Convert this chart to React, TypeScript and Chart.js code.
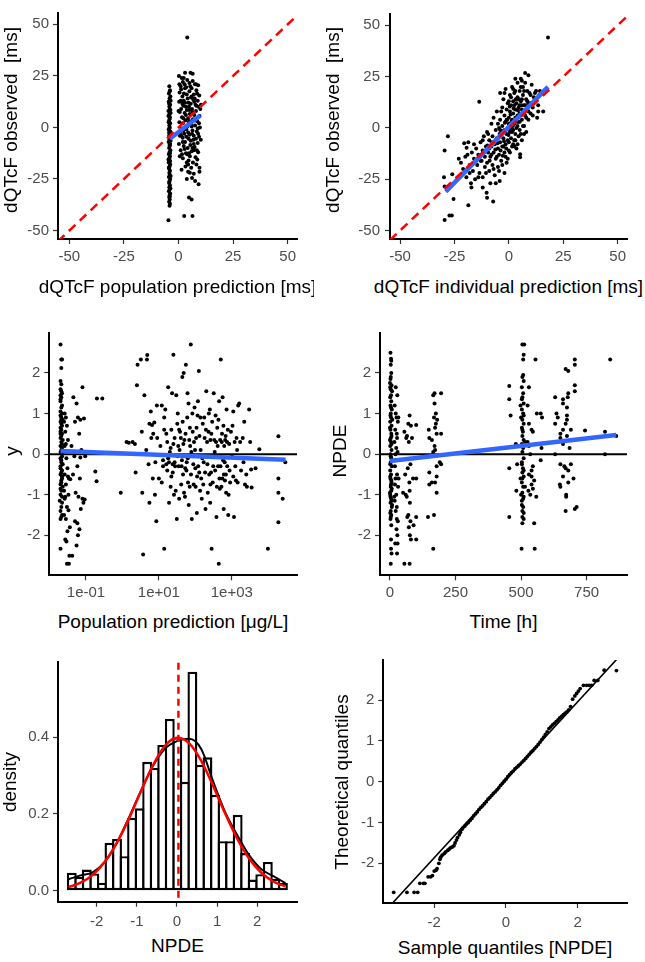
import React, { useEffect, useRef } from "react";
import { Chart, registerables } from "chart.js";
Chart.register(...registerables);

// ---------------- data ----------------
const obsTicks = [-50, -25, 0, 25, 50];
const npdeTicks = [-2, -1, 0, 1, 2];
const concTicks = [0.1, 10, 1000];
const concTickLabels = ["1e-01", "1e+01", "1e+03"];
const timeTicks = [0, 250, 500, 750];
const histXTicks = [-2, -1, 0, 1, 2];
const histYTicks = [0, 0.2, 0.4];
const histYTickLabels = ["0.0", "0.2", "0.4"];
const qqXTicks = [-2, 0, 2];

// panel 1: observed vs population prediction
const popPredPoints = [
  [-4.2,20],[-3.9,18],[-4.4,16.5],[-3.7,15],[-4.1,14],[-4.5,12.5],[-3.8,11],[-4.2,10],[-4,9],[-4.6,8],[-3.6,7],[-4.3,6],[-3.9,5],[-4.1,4],[-4.4,3],[-3.8,2],[-4.2,1],[-4,0],[-4.5,-1],[-3.7,-2],[-4.1,-3],[-4.3,-4],[-3.9,-5],[-4.2,-6],[-4.5,-7],[-3.8,-8],[-4,-9],[-4.3,-10],[-3.7,-11],[-4.1,-12],[-4.4,-13],[-3.9,-14],[-4.2,-15],[-4,-16],[-4.5,-17],[-3.8,-18],[-4.1,-19],[-4.3,-20],[-3.9,-21],[-4.2,-22],[-4,-23],[-4.4,-24],[-3.8,-25],[-4.1,-26],[-4.3,-27],[-3.9,-28],[-4.2,-29],[-4,-30],[-4.4,-31],[-3.8,-32],[-4.1,-33],[-4.2,-34],[-4,-35],[-4.3,-36],[-3.9,-37],[-4.1,-38],[-4.6,-45],
  [-3.6,13],[-4.6,5.5],[-3.6,-6.5],[-4.6,-15.5],[-3.6,-23.5],[-4.5,2.5],[-3.7,8.5],[-4.4,-19.5],[-3.7,-29.5],[-4.0,17.5],[-4.3,-2.5],[-3.9,-12.5],
  [-4.2,-0.5],[-4,-5.5],[-4.1,-8.5],[-3.9,-16.5],[-4.2,-26.5],[-4,-33.5],[-4.3,11.5],[-4.1,6.5],
  [0.2,25],[1.5,24],[3,26.5],[5.5,26.5],[6.5,26],[2,22],[4,23],[7.5,21],[9,20.5],[1,20],[3.5,19.5],[6,19],[8.2,18],[0.5,17],[2.5,16.5],[5,17.5],[7,16],[9.5,15.5],[1.8,15],[4.2,14],[6.8,13.5],[8.8,13],[0.3,12.5],[3,12],[5.6,11.5],[7.8,11],[2.2,10.5],[4.8,10],[9.2,10],[1.2,9],[6.2,9],[3.8,8.5],[8,8],[0.6,7.5],[2.8,7],[5.2,6.5],[7.2,6],[9.6,5.5],[1.6,5],[4.4,4.5],[6.6,4],[3.2,3.5],[8.6,3],[0.4,2.5],[2,2],[5.8,1.5],[7.6,1],[4,0.5],[9.8,0],[1.4,-0.5],[3.6,-1],[6.4,-1.5],[8.4,-2],[0.8,-2.5],[2.6,-3],[5,-3.5],[7,-4],[9.4,-4.5],[1.9,-5],[4.6,-5.5],[6.8,-6],[3,-7],[8.8,-7.5],[0.2,-8],[5.4,-8.5],[2.4,-9],[7.4,-9.5],[4.2,-10],[1,-11],[6,-11.5],[9,-12],[3.4,-12.5],[5.2,-14],[7.8,-14.5],[2,-15],[4.6,-16],[6.6,-17],[8.2,-18],[3.2,-19],[5.8,-19.5],[9.6,-19.5],[1.4,-20.5],[4.4,-21.5],[7,-22.5],[6.2,-24.5],[3.8,-25],[7.6,-26],[9.2,-27.5],[4.8,-34],[6,-35],[2.6,-43],[6.4,-43],[4,43.6],
  [2.8,21],[5,21.5],[6.5,22.5],[1.2,18.5],[3.8,16],[8.5,16.5],[5.8,14.5],[2.4,13],[7.2,12.5],[4.6,12],[1.8,11.5],[8.2,10.5],[3.4,10],[6.4,7.5],[5,8.5],[2.2,4.5],[7.8,3.5],[4.8,2.5],[3,0],[6,0.5],[8.8,-0.5],[2.2,-1.5],[4.4,-2.5],[6.2,-3],[1.2,-4],[3.6,-4.5],[8,-5.5],[5.6,-6.5],[2.8,-10.5],[7,-11],[4.8,-12.5],[0.6,-14],[8.6,-15.5],[3.8,-17],[5.2,-22],[9.6,-21.5],
  [0,8],[1,13],[2,-7],[3,19],[4,-13],[5,3],[6,15],[7,-8],[8,21],[9,-3],[10,9],[0.6,-4],[1.6,-13],[2.4,24],[3.4,6],[4.4,-18],[5.4,20],[6.4,-10],[7.4,14],[8.4,-11],[9.4,2],[10.2,-6],[0.4,21],[10.3,11]
];
const popPredSmooth = [[-4, -5.5], [10, 5.8]];
const identityLineA = [[-55.2, -55.2], [56, 56]];

// panel 2: observed vs individual prediction
const indPredPoints = [
  [18,44],[-28,-4],[-29.5,-11],[-29.8,-24],[-29.5,-28.5],[-29.5,-44.8],[-26,-22.5],[-25.4,-34.6],[-26.2,-42.7],[-27.3,-42.7],[-19.4,-9.6],[-18.6,-7],[-18.6,-37.6],[-17.4,-27],[-17.2,-29],[-13.6,12.7],[-10.2,-31.6],[-10,-34],[-7.2,-35.8],[-4.2,-25.9],[14.3,18],[9,25.7],[7.5,26.8],[13.5,8],[15.8,8],[5.2,-12.8],[5.2,-14.3],
  [-22,-17],[-21,-20],[-20,-14],[-19.5,-24],[-18,-18],[-17,-12],[-16.5,-21],[-16,-15],[-15.5,-25],[-15,-10],[-14.5,-18],[-14,-13],[-13.5,-22],[-13,-7],[-12.5,-16],[-12,-11],[-12,-24],[-11.5,-4],[-11,-14],[-11,-19],[-10.5,-9],[-10,-2],[-10,-17],[-9.5,-12],[-9,-6],[-9,-21],[-8.5,-14],[-8,2],[-8,-9],[-7.5,-18],[-7.5,-4],[-7,-12],[-7,5],[-6.5,-8],[-6.5,-23],[-6,-1],[-6,-15],[-5.5,-5],[-5.5,8],[-5,-10],[-5,-19],[-4.5,0],[-4.5,-13],[-4,4],[-4,-7],[-4,17],[-3.5,-3],[-3.5,-16],[-3,10],[-3,-9],[-3,1],[-2.5,-5],[-2.5,14],[-2,6],[-2,-12],[-2,-1],[-1.5,3],[-1.5,-8],[-1.5,19],[-1,9],[-1,-3],[-1,-17],[-0.5,0],[-0.5,12],[-0.5,-6],[0,5],[0,-11],[0,2],[0.5,-2],[0.5,16],[0.5,8],[1,-5],[1,11],[1,0],[1.5,4],[1.5,-9],[1.5,20],[2,7],[2,-1],[2,13],[2.5,2],[2.5,-6],[2.5,17],[3,9],[3,-3],[3,5],[3.5,12],[3.5,0],[3.5,-10],[4,6],[4,15],[4,22],[4.5,3],[4.5,-4],[4.5,10],[5,18],[5,7],[5,-1],[5.5,13],[5.5,24],[6,4],[6,9],[6,-6],[6.5,16],[6.5,20],[7,11],[7,1],[7.5,6],[7.5,22],[8,14],[8,-2],[8.5,9],[8.5,18],[9,4],[9,12],[10,16],[10,7],[10.5,21],[11,10],[11.5,15],[12,13],[12.5,18],[13,5],[13.5,11],[14,16],[-2.8,-13.5],[-8.5,-27],[-12,-29],[-20.5,-7.5],
  [-1.8,2.5],[-0.8,4],[0.2,-0.5],[1.2,3],[2.2,9.5],[-3.2,-1.5],[-4.2,-3],[0.8,6.5],[1.8,1],[2.8,3.5],[-2.2,-6.5],[-5.2,-7.5],[3.2,14],[4.2,8.5],[-0.2,-3.5],[-6.2,-10.5],[-7.8,-7],[5.8,11],[6.8,7.5],[-1.2,-10],[-3.8,-11],[0.4,10.5],[2.6,-9],[-8.8,-16],[-9.8,-8.5],[3.8,3],
  [-16,-8],[-14,-24],[-13,-16],[-11.5,-12],[-10.5,-22],[-9.5,-3],[-8,-13],[-7,-20],[-6,-6],[-5.5,-14],[-5,2],[-4.5,-21],[-4,-1],[-3.5,8],[-3,-18],[-2.5,-9],[-2,17],[-1.5,-14],[-1,4],[-0.5,-15],[0,13],[0,-7],[0.5,-12],[1,15],[1.5,-2],[2,-8],[2,19],[2.5,11],[3,-6],[3,18],[3.5,5],[4,-8],[4,1],[4.5,14],[5,3],[5,11],[5.5,-3],[5.5,20],[6,14],[6.5,1],[7,18],[7,-3],[7.5,11],[8,5],[8.5,13],[9,8],[9.5,17],[10,12],[11,6],[12,17],[-18,-22],[-15,-16],[-19,-13],[-23,-15],[-12,-6],[-9,-10],[-6,-27],[-2,-22],[3,24],[6,23]
];
const indPredSmooth = [[-29, -31], [18, 20]];
const identityLineB = [[-54.6, -54.6], [56, 56]];

// panel 3: NPDE vs population prediction (log axis)
const concNpdePoints = [
  [0.02,2.7],[0.021,2.33],[0.022,2.33],[0.021,2.12],[0.02,1.8],[0.021,1.72],[0.02,1.6],[0.022,1.5],[0.02,1.45],[0.021,1.4],[0.02,1.3],[0.022,1.2],[0.021,1.15],[0.02,1.05],[0.022,1.0],[0.02,0.95],[0.021,0.9],[0.023,0.85],[0.02,0.8],[0.021,0.75],[0.022,0.7],[0.02,0.65],[0.021,0.6],[0.02,0.55],[0.022,0.5],[0.021,0.45],[0.02,0.4],[0.023,0.35],[0.021,0.3],[0.02,0.2],[0.022,0.15],[0.021,0.1],[0.02,0.05],[0.022,-0.05],[0.02,-0.1],[0.021,-0.2],[0.023,-0.25],[0.02,-0.3],[0.022,-0.4],[0.021,-0.45],[0.02,-0.5],[0.022,-0.6],[0.021,-0.7],[0.02,-0.75],[0.023,-0.8],[0.021,-0.9],[0.02,-1.0],[0.022,-1.05],[0.021,-1.3],[0.02,-1.4],[0.022,-1.5],[0.021,-1.55],[0.02,-2.33],
  [0.02,1.35],[0.021,0.85],[0.02,0.5],[0.022,0.25],[0.021,-0.15],[0.02,-0.35],[0.022,-0.55],[0.021,-0.65],[0.02,-0.85],[0.022,-1.2],[0.02,-1.6],[0.021,1.55],[0.023,0.05],[0.019,-1.15],
  [0.026,1.0],[0.028,0.9],[0.025,0.8],[0.03,0.7],[0.027,0.55],[0.032,0.35],[0.026,0.2],[0.029,-0.1],[0.031,-0.35],[0.026,-0.5],[0.034,-0.6],[0.028,-0.75],[0.025,-0.9],[0.033,-1.0],[0.027,-1.05],[0.03,-1.3],[0.025,-1.5],[0.028,-1.6],[0.036,-1.8],[0.031,-1.9],[0.027,-2.1],[0.029,-2.15],[0.035,-2.5],[0.03,-2.7],[0.034,-2.7],[0.032,-0.55],[0.037,-0.62],[0.028,0.25],[0.033,-1.38],[0.026,-1.1],
  [0.045,1.4],[0.055,1.25],[0.06,0.9],[0.07,0.85],[0.05,0.8],[0.065,0.5],[0.04,0.2],[0.075,0.1],[0.048,-0.05],[0.058,-0.3],[0.044,-0.5],[0.068,-0.6],[0.052,-0.95],[0.062,-1.05],[0.08,-1.1],[0.085,-1.2],[0.072,-1.35],[0.05,-1.65],[0.058,-1.7],[0.066,-1.85],[0.06,-2.0],[0.055,-2.25],[0.042,-2.5],[0.08,1.65],[0.088,0.88],[0.095,-0.05],[0.092,-1.12],[0.07,-0.08],
  [0.2,1.37],[0.28,1.37],[0.18,-0.43],[0.195,-0.67],
  [0.9,-0.95],[1.5,0.28],[1.3,0.3],[2.6,2.2],[3.2,2.33],[1.9,0.3],[2.2,0.25],[2.5,1.7],[3.5,-0.95],[4.5,0.1],[4.0,1.45],[4.8,2.44],[4.7,2.33],[3.7,-2.47],[5.5,0.75],[6.5,0.72],[6,1.05],[7,0.5],[8,-0.2],[9,0.4],[7.5,0.78],[5.5,-1.2],[8.5,-1.65],[6.2,0.4],[10,-0.6],[11,0.2],[12,1.2],[13,-0.3],[14,0.6],[14,-2.33],[15,1.1],[16,0.5],[17,-0.4],[18,1.65],[19,-0.2],[20,0.05],[21,-0.8],[22,0.6],[23,1.5],[24,-0.25],[25,2.45],[26,-1.0],[27,0.4],[28,-0.3],[30,1.45],[31,-1.6],[32,0.75],[34,0.2],[35,-0.3],[36,-1.1],[38,0.55],[40,0.4],[42,-0.3],[44,1.9],[46,-0.5],[48,2.0],[50,0.35],[52,-1.05],[55,2.2],[58,-0.2],[60,0.9],[63,-0.7],[65,1.25],[68,0.35],[70,-0.8],[75,2.7],[78,0.05],[80,-1.6],[85,0.55],[90,-0.75],[95,1.15],[100,-0.35],[105,0.4],[110,-1.45],[115,0.95],[120,-0.3],[125,2.05],[130,0.45],[135,-0.9],[140,0.1],[150,-1.1],[160,0.75],[170,-0.2],[180,0.4],[190,-1.35],[200,1.55],[210,0.3],[220,-0.95],[230,0.55],[240,-0.5],[250,1.1],[260,0.35],[270,-0.45],[280,-2.33],[290,0.8],[300,-0.7],[320,1.5],[340,0.05],[350,-0.4],[370,0.3],[380,-1.55],[400,0.65],[420,-0.3],[440,-2.7],[450,1.3],[460,-0.6],[480,0.35],[500,2.33],[520,-0.8],[540,0.5],[560,1.4],[580,-0.15],[600,-1.35],[620,0.2],[650,-0.65],[680,0.45],[700,-0.95],[720,1.1],[750,-0.3],[780,0.6],[800,-1.5],[850,0.25],[900,-0.7],[950,0.55],[1000,-0.05],[1100,-0.55],[1150,-1.55],[1200,0.3],[1300,-0.65],[1400,0.1],[1500,1.2],[1600,1.25],[1800,-0.4],[2000,0.4],[2100,-0.2],[2300,-0.75],[2600,-0.8],[3000,1.1],[3400,-0.38],[3500,-0.82],[5700,0.12],[9800,-2.33],[19000,-0.95],[19000,0.44],[19000,-0.6],[19000,-1.68],[25000,-1.1],[29500,-0.2],
  [13,-0.15],[16,-0.25],[18,-0.1],[21,0.15],[24,-0.45],[27,-0.2],[33,-0.05],[37,0.1],[43,-0.15],[47,0.25],[53,-0.35],[62,-0.1],[72,0.2],[88,-0.25],[98,0.1],[112,-0.55],[145,-0.6],[175,0.9],[260,-0.75],[330,0.35],[430,0.85],[470,-0.85],[530,0.3],[610,-0.5],[660,0.35],[820,-1.0],[1050,0.7],[1700,0.3],
  [12,-0.7],[14,0.9],[17,0.3],[19,-1.2],[22,-0.55],[25,0.25],[29,-0.9],[33,1.0],[36,0.6],[41,-0.75],[45,0.8],[49,-0.95],[54,0.5],[57,-0.4],[61,1.5],[66,-1.25],[71,0.65],[76,-0.5],[83,1.0],[92,0.3],[102,-0.8],[108,0.65],[118,1.3],[128,-0.45],[138,0.9],[155,-0.1],[165,-0.75],[185,-0.45],[195,0.6],[215,-0.25],[235,1.0],[255,-1.2],[275,0.5],[310,-0.3],[360,0.95],[390,-0.8],[410,0.2],[490,-0.3],[550,-0.6],[590,0.7],[640,-0.2],[690,-0.5],[740,0.3],[870,-0.4],[1250,-0.3],[1350,0.4],[1450,-0.7],[2200,0.8],[2500,-0.5],[3200,0.3],[4500,-0.35],[1100,1.05],[6.8,-0.6],[8.8,1.2],[5.2,-0.25],[3.4,0.55],[2.3,-0.45],[7.8,-1.0]
];
const concSmooth = [[0.02, 0.08], [30000, -0.14]];
const concRange = [0.00984, 61660];

// panel 4: NPDE vs time
const timeNpdePoints = [
  [2,2.5],[4,2.35],[3,2.2],[5,2.0],[2,1.85],[6,1.7],[3,1.6],[4,1.45],[1,1.4],[5,1.3],[2,1.2],[7,1.1],[3,1.0],[4,0.9],[1,0.8],[6,0.7],[2,0.6],[5,0.5],[3,0.4],[4,0.3],[1,0.2],[6,0.1],[2,0.0],[5,-0.1],[3,-0.2],[7,-0.3],[1,-0.4],[4,-0.5],[2,-0.6],[6,-0.7],[3,-0.8],[5,-0.9],[1,-1.0],[4,-1.1],[2,-1.2],[7,-1.3],[3,-1.4],[5,-1.5],[2,-1.6],[4,-2.33],[6,-2.45],[3,-2.7],[8,1.55],[0,0.65],[8,-0.15],[0,-0.95],[8,-1.25],[0,0.35],[9,0.85],[1,-0.55],[0,1.75],[7,-0.85],[1,-1.45],[6,0.45],
  [3,1.9],[5,2.3],[1,1.65],[4,1.15],[2,0.95],[6,0.25],[3,-0.05],[1,-0.25],[5,-0.65],[4,-0.75],[2,-1.05],[6,-1.15],[3,-1.55],[5,-1.75],[4,-2.1],
  [22,1.65],[28,1.45],[18,1.2],[25,0.9],[30,0.8],[20,0.6],[26,0.5],[17,0.3],[29,0.05],[23,-0.15],[19,-0.3],[27,-0.5],[21,-0.6],[31,-0.8],[24,-1.0],[18,-1.15],[26,-1.3],[22,-1.4],[30,-1.65],[25,-1.85],[28,-2.0],[20,-2.2],[27,-2.45],[32,0.9],[16,-1.05],[33,-0.6],[24,0.15],[29,-2.2],[22,1.0],[27,0.4],[19,-0.75],[26,-1.6],[21,0.0],
  [75,0.95],[70,0.75],[80,0.7],[55,0.55],[62,0.4],[72,0.3],[78,-0.25],[68,-0.35],[58,-0.5],[88,-0.6],[74,-0.7],[50,-0.95],[64,-1.05],[76,-1.2],[70,-1.5],[66,-1.55],[78,-1.65],[72,-1.8],[76,-2.0],[80,-2.1],[55,-2.7],[75,-2.7],[100,0.72],[100,-0.6],[100,-1.55],[100,-2.1],[60,-1.0],[84,0.4],[75,-0.9],[65,0.45],[90,-1.75],
  [170,1.5],[165,1.45],[170,1.25],[175,1.0],[168,0.9],[180,0.85],[172,0.65],[148,0.6],[178,0.5],[195,0.5],[150,0.4],[160,0.35],[172,0.1],[165,0.05],[190,-0.2],[178,-0.3],[150,-0.45],[172,-0.7],[150,-0.75],[178,-0.95],[145,-1.55],[168,-1.5],[165,-2.33],[195,-0.25],[160,-0.7],[175,0.75],[195,1.5],[170,0.2],[178,-0.55],
  [455,1.68],[455,1.35],[460,0.95],[455,-0.35],[455,-1.55],[480,0.25],[485,-0.25],[482,-0.9],
  [505,2.7],[512,2.7],[510,2.45],[508,2.33],[505,1.9],[510,1.8],[503,1.65],[508,1.5],[505,1.4],[510,1.25],[503,1.1],[508,1.0],[505,0.85],[510,0.75],[503,0.65],[507,0.55],[505,0.45],[510,0.35],[503,0.25],[508,0.15],[505,0.05],[510,-0.1],[503,-0.2],[507,-0.35],[505,-0.45],[510,-0.55],[503,-0.7],[508,-0.8],[505,-0.95],[510,-1.05],[503,-1.15],[508,-1.3],[505,-1.4],[510,-1.6],[505,-1.7],[502,-2.33],[498,1.2],[498,-0.6],[500,0.9],[500,-1.0],[515,0.3],[515,-0.8],
  [508,1.95],[503,1.35],[510,0.95],[505,0.6],[508,0.2],[503,-0.25],[510,-0.4],[505,-0.6],[508,-1.1],[503,-1.25],[510,-1.45],[505,-1.55],
  [555,2.33],[530,1.65],[560,1.0],[530,0.75],[540,0.6],[525,0.3],[535,0.0],[545,-0.3],[530,-0.5],[550,-0.65],[540,-0.75],[528,-0.9],[558,-1.05],[550,-1.7],[552,-2.33],[545,0.55],[535,-1.0],[525,1.2],[540,-0.55],[530,0.2],[540,-0.4],[545,-0.85],
  [575,1.0],[580,0.9],[578,0.15],[575,-0.15],
  [705,2.33],[705,2.2],[670,2.1],[680,2.05],[705,1.7],[705,1.55],[680,1.5],[678,1.4],[630,1.4],[660,1.25],[635,1.0],[675,0.95],[640,0.9],[630,0.75],[670,0.75],[660,0.6],[650,0.5],[675,0.45],[640,0.3],[685,0.15],[630,0.0],[650,-0.25],[670,-0.35],[680,-0.4],[660,-0.55],[700,-0.6],[648,-0.75],[650,-0.8],[672,-1.0],[672,-1.05],[712,-1.3],[705,-1.35],[670,-1.4],[690,-0.25],[660,0.25],[675,1.15],
  [660,1.35],[675,0.85],[690,0.6],[665,-0.3],[680,-0.7],[650,0.4],[700,0.35],
  [744,0.58],[820,0.55],[820,0.0],[840,2.33],[863,0.45]
];
const timeSmooth = [[0, -0.17], [863, 0.47]];
const timeRange = [-38, 904];

// panel 5: histogram of NPDE
const binCenters = [-2.621,-2.433,-2.246,-2.058,-1.870,-1.682,-1.494,-1.307,-1.119,-0.931,-0.743,-0.555,-0.368,-0.180,0.008,0.196,0.384,0.572,0.759,0.947,1.135,1.323,1.511,1.698,1.886,2.074,2.262,2.450,2.638];
const binDensity = [0.047,0.036,0.055,0.045,0.021,0.125,0.135,0.09,0.19,0.215,0.336,0.32,0.38,0.448,0.40,0.284,0.571,0.328,0.348,0.25,0.129,0.129,0.198,0.098,0.029,0.043,0.075,0.031,0.020];
const curveX = [-2.7,-2.4,-2.1,-1.8,-1.5,-1.2,-0.9,-0.6,-0.3,0,0.3,0.6,0.9,1.2,1.5,1.8,2.1,2.4,2.7];
const kernelDensity = [0.03,0.04,0.048,0.075,0.125,0.19,0.26,0.325,0.37,0.39,0.396,0.37,0.285,0.205,0.145,0.092,0.056,0.038,0.02];
const normalDensity = [0.0096,0.0208,0.0413,0.0748,0.1238,0.1872,0.2587,0.3267,0.3778,0.3988,0.3846,0.3391,0.2732,0.2012,0.1354,0.0833,0.0468,0.024,0.0113];
const npdeMean = 0.035;

// panel 6: QQ plot
const qqPoints = [
  [-3.13,-2.71],[-2.76,-2.71],[-2.56,-2.71],[-2.46,-2.71],[-2.4,-2.49],[-2.3,-2.49],[-2.26,-2.49],[-2.17,-2.33],[-2.1,-2.33],[-2.05,-2.3],[-2.0,-2.19],[-1.95,-2.17],[-1.92,-2.13],[-1.87,-2.0],[-1.84,-1.9],[-1.82,-1.85],[-1.78,-1.8],[-1.72,-1.76],[-1.68,-1.72],[-1.62,-1.68],[-1.58,-1.65],[-1.55,-1.62],[-1.5,-1.6],[-1.45,-1.57],[-1.42,-1.5],[-1.38,-1.43],[-1.35,-1.37],[-1.3,-1.3],[-1.27,-1.24],[-1.23,-1.17],[-1.2,-1.13],[-1.15,-1.09],[-1.1,-1.04],[-1.05,-1.0],[-1.0,-0.95],[-0.95,-0.9],[-0.9,-0.84],[-0.85,-0.79],[-0.8,-0.74],[-0.75,-0.68],[-0.7,-0.63],[-0.65,-0.59],[-0.6,-0.54],[-0.55,-0.49],[-0.5,-0.43],[-0.45,-0.39],[-0.4,-0.34],[-0.35,-0.29],[-0.3,-0.25],[-0.25,-0.2],[-0.2,-0.15],[-0.15,-0.09],[-0.1,-0.04],[-0.05,0.01],[0,0.06],[0.05,0.12],[0.1,0.17],[0.15,0.22],[0.2,0.26],[0.25,0.31],[0.3,0.35],[0.35,0.39],[0.4,0.43],[0.45,0.48],[0.5,0.52],[0.55,0.57],[0.6,0.62],[0.65,0.67],[0.7,0.72],[0.75,0.76],[0.8,0.81],[0.85,0.86],[0.9,0.91],[0.95,0.97],[1.0,1.03],[1.05,1.09],[1.1,1.16],[1.15,1.22],[1.2,1.3],[1.25,1.34],[1.3,1.39],[1.35,1.43],[1.4,1.47],[1.45,1.51],[1.5,1.56],[1.55,1.6],[1.6,1.64],[1.65,1.68],[1.7,1.71],[1.75,1.76],[1.8,1.84],[1.86,2.02],[1.92,2.1],[1.97,2.16],[2.02,2.22],[2.07,2.28],[2.16,2.36],[2.25,2.36],[2.32,2.36],[2.39,2.36],[2.46,2.48],[2.56,2.48],[2.74,2.73],[3.08,2.72]
];
const qqLine = [[-3.42, -3.22], [3.375, 3.27]];

// ---------------- styling helpers ----------------
const FONT = "'Liberation Sans', Arial, Helvetica, sans-serif";
const TICK_COLOR = "#4D4D4D";

const toXY = (a: number[][]) => a.map(([x, y]) => ({ x, y }));

function axis(min: number, max: number, ticks: number[], size: number, horizontal: boolean, extra: any = {}) {
  const labels: string[] | undefined = extra.labels;
  return {
    type: extra.type || "linear",
    min,
    max,
    offset: false,
    afterBuildTicks: (s: any) => {
      s.ticks = ticks.map((v) => ({ value: v }));
    },
    afterFit: (s: any) => {
      if (horizontal) s.height = size;
      else s.width = size;
    },
    ticks: {
      color: TICK_COLOR,
      font: { family: FONT, size: 15 },
      padding: extra.pad !== undefined ? extra.pad : 4,
      maxRotation: 0,
      minRotation: 0,
      autoSkip: false,
      callback: (v: any, i: number) => (labels ? labels[i] : String(v)),
    },
    grid: {
      display: true,
      drawOnChartArea: false,
      drawTicks: true,
      tickLength: 5,
      tickColor: "#333333",
      tickWidth: 1.2,
      offset: false,
    },
    border: { display: true, color: "#000000", width: 2 },
  };
}

function baseOptions(padTop: number, padRight: number, scales: any) {
  return {
    responsive: false,
    animation: false,
    devicePixelRatio: 1,
    events: [],
    layout: { padding: { top: padTop, right: padRight, left: 0, bottom: 0 } },
    plugins: { legend: { display: false }, tooltip: { enabled: false } },
    scales,
  };
}

const pointSet = (data: number[][], r = 2) => ({
  data: toXY(data),
  showLine: false,
  pointRadius: r,
  pointBackgroundColor: "#000000",
  pointBorderWidth: 0,
  pointBorderColor: "#000000",
});

const lineSet = (data: number[][], color: string, width: number, extra: any = {}) => ({
  data: toXY(data),
  showLine: true,
  borderColor: color,
  borderWidth: width,
  pointRadius: 0,
  fill: false,
  ...extra,
});

function ChartBox(props: { left: number; top: number; width: number; height: number; make: () => any }) {
  const ref = useRef<HTMLCanvasElement | null>(null);
  useEffect(() => {
    const chart = new Chart(ref.current as HTMLCanvasElement, props.make());
    return () => chart.destroy();
  }, []);
  return (
    <div style={{ position: "absolute", left: props.left, top: props.top, width: props.width, height: props.height }}>
      <canvas ref={ref} width={props.width} height={props.height} style={{ display: "block", width: props.width, height: props.height }} />
    </div>
  );
}

function Label(props: { x: number; y: number; text: string; rotate?: boolean }) {
  return (
    <div
      style={{
        position: "absolute",
        left: props.x,
        top: props.y,
        transform: "translate(-50%, -50%)" + (props.rotate ? " rotate(-90deg)" : ""),
        whiteSpace: "pre",
        fontFamily: FONT,
        fontSize: 19,
        lineHeight: "22px",
        color: "#000000",
      }}
    >
      {props.text}
    </div>
  );
}

// ---------------- chart configs ----------------
const makePanel1 = () => ({
  type: "scatter",
  data: {
    datasets: [
      lineSet(identityLineA, "#FF0000", 2.5, { borderDash: [9, 6], clip: 0 }),
      lineSet(popPredSmooth, "#3366FF", 4.5),
      pointSet(popPredPoints),
    ],
  },
  options: baseOptions(0, 18, {
    x: axis(-55.17, 54.26, obsTicks, 31, true),
    y: axis(-54.1, 55.5, obsTicks, 58, false, { pad: 4 }),
  }),
});

const makePanel2 = () => ({
  type: "scatter",
  data: {
    datasets: [
      lineSet(identityLineB, "#FF0000", 2.5, { borderDash: [9, 6], clip: 0 }),
      lineSet(indPredSmooth, "#3366FF", 4.5),
      pointSet(indPredPoints),
    ],
  },
  options: baseOptions(0, 18, {
    x: axis(-54.6, 54.3, obsTicks, 31, true),
    y: axis(-54.1, 55.5, obsTicks, 60, false, { pad: 5 }),
  }),
});

const makePanel3 = () => ({
  type: "scatter",
  data: {
    datasets: [
      lineSet(concSmooth, "#3366FF", 4.5),
      lineSet([[concRange[0], 0], [concRange[1], 0]], "#000000", 2),
      pointSet(concNpdePoints),
    ],
  },
  options: baseOptions(6.7, 18, {
    x: axis(concRange[0], concRange[1], concTicks, 29.7, true, { type: "logarithmic", labels: concTickLabels }),
    y: axis(-2.984, 2.984, npdeTicks, 49.3, false),
  }),
});

const makePanel4 = () => ({
  type: "scatter",
  data: {
    datasets: [
      lineSet(timeSmooth, "#3366FF", 4.5),
      lineSet([[timeRange[0], 0], [timeRange[1], 0]], "#000000", 2),
      pointSet(timeNpdePoints),
    ],
  },
  options: baseOptions(6.7, 18, {
    x: axis(timeRange[0], timeRange[1], timeTicks, 29.7, true),
    y: axis(-2.984, 2.984, npdeTicks, 50, false),
  }),
});

const makePanel5 = () => ({
  type: "bar",
  data: {
    datasets: [
      {
        type: "line",
        data: [{ x: npdeMean, y: -0.05 }, { x: npdeMean, y: 0.65 }],
        borderColor: "#FF0000",
        borderWidth: 2.5,
        borderDash: [7, 5],
        pointRadius: 0,
        clip: 0,
      },
      {
        type: "line",
        data: curveX.map((x, i) => ({ x, y: normalDensity[i] })),
        borderColor: "#FF0000",
        borderWidth: 2.5,
        pointRadius: 0,
        cubicInterpolationMode: "monotone",
      },
      {
        type: "line",
        data: curveX.map((x, i) => ({ x, y: kernelDensity[i] })),
        borderColor: "#000000",
        borderWidth: 2,
        pointRadius: 0,
        cubicInterpolationMode: "monotone",
      },
      {
        type: "bar",
        data: binCenters.map((x, i) => ({ x, y: binDensity[i] })),
        backgroundColor: "#FFFFFF",
        borderColor: "#000000",
        borderWidth: 2.4,
        borderSkipped: false,
        barPercentage: 1.318,
        categoryPercentage: 1,
        grouped: false,
      },
    ],
  },
  options: baseOptions(21.7, 18, {
    x: axis(-2.964, 2.989, histXTicks, 28.3, true, { pad: 6 }),
    y: axis(-0.0287, 0.5971, histYTicks, 58, false, { labels: histYTickLabels }),
  }),
});

const makePanel6 = () => ({
  type: "scatter",
  data: {
    datasets: [
      lineSet(qqLine, "#000000", 1.6, { clip: 0 }),
      pointSet(qqPoints, 1.9),
    ],
  },
  options: baseOptions(20, 18, {
    x: axis(-3.42, 3.375, qqXTicks, 27, true, { pad: 6 }),
    y: axis(-2.972, 2.98, npdeTicks, 53.3, false),
  }),
});

export default function App() {
  return (
    <div style={{ position: "absolute", left: 0, top: 0, width: 645, height: 962, background: "#FFFFFF", overflow: "hidden" }}>
      <ChartBox left={0} top={0} width={315} height={270} make={makePanel1} />
      <ChartBox left={330} top={0} width={315} height={270} make={makePanel2} />
      <ChartBox left={0} top={320} width={315} height={285} make={makePanel3} />
      <ChartBox left={330} top={320} width={315} height={285} make={makePanel4} />
      <ChartBox left={0} top={640} width={315} height={290} make={makePanel5} />
      <ChartBox left={330} top={640} width={315} height={290} make={makePanel6} />

      <Label x={10.5} y={120} text={"dQTcF observed  [ms]"} rotate />
      <div style={{ position: "absolute", left: 0, top: 262, width: 314, height: 50, overflow: "hidden" }}>
        <Label x={177.5} y={25} text={"dQTcF population prediction [ms]"} />
      </div>

      <Label x={332.5} y={120} text={"dQTcF observed  [ms]"} rotate />
      <Label x={508.5} y={287} text={"dQTcF individual prediction [ms]"} />

      <Label x={12} y={451} text={"y"} rotate />
      <Label x={173} y={622} text={"Population prediction [μg/L]"} />

      <Label x={340} y={451} text={"NPDE"} rotate />
      <Label x={503.5} y={622} text={"Time [h]"} />

      <Label x={10} y={782} text={"density"} rotate />
      <Label x={177.5} y={946} text={"NPDE"} />

      <Label x={342} y={781.5} text={"Theoretical quantiles"} rotate />
      <Label x={505} y={948} text={"Sample quantiles [NPDE]"} />
    </div>
  );
}
